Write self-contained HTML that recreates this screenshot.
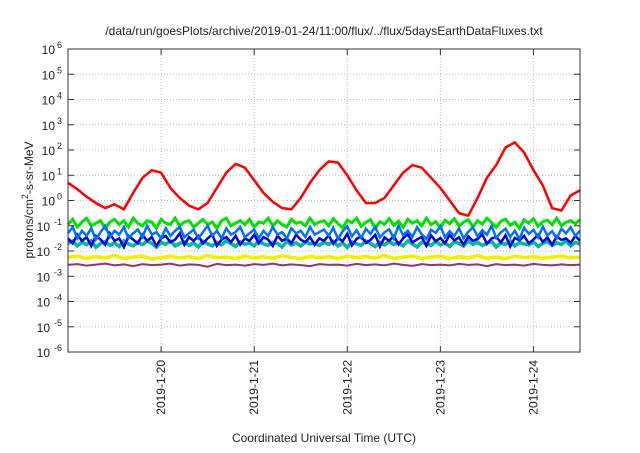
<!DOCTYPE html>
<html><head><meta charset="utf-8"><style>
body{margin:0;background:#fff;}
svg text{font-family:"Liberation Sans",Arial,sans-serif;fill:#222;}
</style></head><body>
<svg id="chart" width="640" height="448" xmlns="http://www.w3.org/2000/svg">
<text x="324" y="35" font-size="12" text-anchor="middle">/data/run/goesPlots/archive/2019-01-24/11:00/flux/../flux/5daysEarthDataFluxes.txt</text>
<g id="grid"></g>
<g id="series"></g>
<rect x="68" y="49" width="512" height="303" fill="none" stroke="#333" stroke-width="1"/>
<g id="axes"></g>
<text transform="translate(33,200) rotate(-90)" font-size="12" text-anchor="middle">protons/cm<tspan dy="-5" font-size="9">2</tspan><tspan dy="5">-s-sr-MeV</tspan></text>
<text x="324" y="442" font-size="12" text-anchor="middle">Coordinated Universal Time (UTC)</text>
</svg>
<script>
const xTickDays=[1,2,3,4,5];
const xTickLabels=["2019-1-20","2019-1-21","2019-1-22","2019-1-23","2019-1-24"];
const yTickExps=[-6,-5,-4,-3,-2,-1,0,1,2,3,4,5,6];
const redLog=[0.7,0.45,0.15,-0.1,-0.3,-0.15,-0.35,0.3,0.9,1.2,1.1,0.5,0.1,-0.2,-0.35,-0.1,0.5,1.1,1.45,1.3,0.8,0.3,-0.05,-0.3,-0.35,0.1,0.7,1.2,1.55,1.5,1.0,0.4,-0.1,-0.1,0.1,0.6,1.1,1.4,1.3,0.9,0.5,0.0,-0.5,-0.6,0.1,0.9,1.4,2.1,2.3,1.9,1.2,0.6,-0.3,-0.4,0.2,0.4];
const greenLog=[-0.95,-0.75,-1.05,-0.85,-0.7,-1.0,-0.9,-0.8,-1.1,-0.85,-0.75,-0.95,-0.8,-1.05,-0.7,-0.9,-1.0,-0.8,-0.85,-1.1,-0.75,-0.9,-0.95,-0.7,-1.0,-0.85,-0.8,-1.05,-0.9,-0.75,-0.95,-0.85,-1.1,-0.8,-0.7,-1.0,-0.9,-0.8,-0.95,-0.75,-1.05,-0.85,-0.9,-0.7,-1.0,-0.8,-0.95,-1.05,-0.75,-0.9,-0.85,-1.0,-0.7,-0.95,-0.85,-0.8,-1.0,-0.72,-0.92,-1.08,-0.78,-0.88,-0.7,-1.02,-0.86,-0.76,-1.1,-0.84,-0.94,-0.72,-0.98,-0.82,-1.06,-0.74,-0.9,-0.8,-1.0,-0.7,-0.96,-0.84,-1.08,-0.78,-0.92,-0.72,-1.0,-0.86,-0.76,-1.04,-0.8,-0.94,-0.7,-0.88,-1.06,-0.82,-0.74,-0.98,-0.86,-1.1,-0.76,-0.9,-0.72,-1.02,-0.84,-0.78,-0.96,-0.7,-1.0,-0.86,-0.8,-0.92,-0.76];
const lightBlueLog=[-1.3,-1.05,-1.5,-1.2,-1.4,-1.1,-1.55,-1.25,-1.0,-1.45,-1.2,-1.35,-1.05,-1.5,-1.3,-1.15,-1.45,-1.0,-1.35,-1.25,-1.5,-1.1,-1.4,-1.2,-1.05,-1.45,-1.3,-1.15,-1.5,-1.25,-1.0,-1.4,-1.2,-1.5,-1.1,-1.35,-1.25,-1.05,-1.45,-1.3,-1.15,-1.5,-1.2,-1.4,-1.05,-1.35,-1.25,-1.5,-1.1,-1.3,-1.2,-1.45,-1.05,-1.35,-1.25,-1.15,-1.4,-1.08,-1.52,-1.22,-1.02,-1.42,-1.18,-1.48,-1.12,-1.32,-1.04,-1.46,-1.26,-1.14,-1.5,-1.0,-1.38,-1.2,-1.44,-1.06,-1.34,-1.52,-1.16,-1.28,-1.02,-1.46,-1.22,-1.4,-1.1,-1.5,-1.24,-1.06,-1.42,-1.18,-1.36,-1.0,-1.48,-1.26,-1.12,-1.44,-1.2,-1.52,-1.08,-1.32,-1.16,-1.46,-1.04,-1.38,-1.22,-1.5,-1.12,-1.3,-1.06,-1.4,-1.2];
const blueLog=[-1.5,-1.7,-1.35,-1.6,-1.45,-1.8,-1.4,-1.55,-1.75,-1.3,-1.6,-1.5,-1.85,-1.4,-1.55,-1.7,-1.35,-1.6,-1.45,-1.8,-1.5,-1.4,-1.65,-1.55,-1.3,-1.75,-1.45,-1.6,-1.4,-1.7,-1.5,-1.35,-1.8,-1.55,-1.45,-1.65,-1.4,-1.75,-1.5,-1.6,-1.35,-1.7,-1.45,-1.55,-1.8,-1.4,-1.6,-1.5,-1.7,-1.35,-1.55,-1.65,-1.45,-1.75,-1.5,-1.6,-1.38,-1.72,-1.48,-1.62,-1.32,-1.78,-1.52,-1.42,-1.68,-1.56,-1.36,-1.82,-1.46,-1.6,-1.4,-1.74,-1.5,-1.34,-1.66,-1.54,-1.44,-1.8,-1.38,-1.62,-1.48,-1.7,-1.36,-1.58,-1.46,-1.76,-1.42,-1.6,-1.52,-1.34,-1.72,-1.5,-1.44,-1.66,-1.38,-1.82,-1.48,-1.58,-1.4,-1.7,-1.54,-1.36,-1.64,-1.46,-1.76,-1.42,-1.56,-1.5,-1.68,-1.4,-1.6];
const tealLog=[-1.7,-1.6,-1.8,-1.65,-1.75,-1.6,-1.85,-1.7,-1.62,-1.78,-1.68,-1.82,-1.6,-1.72,-1.8,-1.65,-1.75,-1.6,-1.7,-1.85,-1.66,-1.74,-1.6,-1.8,-1.7,-1.64,-1.78,-1.68,-1.84,-1.62,-1.72,-1.8,-1.66,-1.76,-1.6,-1.7,-1.82,-1.64,-1.74,-1.68,-1.8,-1.6,-1.72,-1.78,-1.66,-1.7,-1.84,-1.62,-1.76,-1.68,-1.8,-1.64,-1.72,-1.7,-1.78,-1.66,-1.74,-1.62,-1.8,-1.68,-1.86,-1.64,-1.72,-1.78,-1.6,-1.7,-1.82,-1.66,-1.76,-1.62,-1.74,-1.68,-1.8,-1.6,-1.72,-1.84,-1.66,-1.7,-1.78,-1.62,-1.76,-1.68,-1.82,-1.64,-1.7,-1.8,-1.6,-1.74,-1.66,-1.78,-1.7,-1.62,-1.84,-1.68,-1.74,-1.6,-1.8,-1.66,-1.72,-1.76,-1.64,-1.82,-1.7,-1.62,-1.78,-1.68,-1.74,-1.6,-1.8,-1.66,-1.72];
const yellowLog=[-2.25,-2.2,-2.3,-2.22,-2.28,-2.18,-2.3,-2.24,-2.2,-2.32,-2.26,-2.2,-2.28,-2.22,-2.3,-2.18,-2.26,-2.24,-2.3,-2.2,-2.27,-2.23,-2.29,-2.19,-2.25,-2.31,-2.21,-2.27,-2.23,-2.3,-2.2,-2.26,-2.22,-2.28,-2.18,-2.3,-2.24,-2.2,-2.29,-2.25,-2.21,-2.3,-2.23,-2.27,-2.19,-2.28,-2.24,-2.3,-2.2,-2.26,-2.22,-2.29,-2.24,-2.2,-2.27,-2.25];
const purpleLog=[-2.55,-2.52,-2.58,-2.54,-2.5,-2.57,-2.53,-2.6,-2.52,-2.56,-2.54,-2.5,-2.58,-2.53,-2.55,-2.62,-2.51,-2.56,-2.54,-2.58,-2.52,-2.55,-2.5,-2.57,-2.53,-2.56,-2.6,-2.52,-2.55,-2.54,-2.58,-2.51,-2.56,-2.53,-2.57,-2.5,-2.55,-2.59,-2.52,-2.56,-2.54,-2.57,-2.51,-2.55,-2.53,-2.6,-2.52,-2.56,-2.54,-2.58,-2.51,-2.55,-2.57,-2.53,-2.56,-2.54];

const X0=68,X1=580,Y0=352,Y1=49,D0=0,D1=5.5;
const xs=d=>X0+(d-D0)/(D1-D0)*(X1-X0);
const ys=e=>Y0-(e+6)/12*(Y0-Y1);
const NS="http://www.w3.org/2000/svg";
const grid=document.getElementById('grid'),axes=document.getElementById('axes'),ser=document.getElementById('series');
function mk(tag,attrs,parent){const el=document.createElementNS(NS,tag);for(const k in attrs)el.setAttribute(k,attrs[k]);parent.appendChild(el);return el;}
yTickExps.forEach(e=>{
  const y=ys(e);
  if(e>-6&&e<6){const g=mk('line',{x1:X0,x2:X1,y1:y,y2:y,stroke:'#bbb','stroke-dasharray':'1,2'},grid);
  
  }
  const t1=mk('line',{x1:X0,x2:X0+6,y1:y,y2:y,stroke:'#333'},axes);
  
  
  const t2=mk('line',{x1:X1-6,x2:X1,y1:y,y2:y,stroke:'#333'},axes);
  
  
  const tx=mk('text',{x:X0-8,y:y+5,'font-size':'12','text-anchor':'end'},axes);
  
  
  tx.textContent='10';
  const sp=mk('tspan',{dy:'-6','font-size':'9'},tx);sp.textContent=String(e);
  tx.setAttribute('x',X0-8-(String(e).length*5));
  sp.setAttribute('x',X0-6);sp.setAttribute('text-anchor','end');
});
xTickDays.forEach((d,i)=>{
  const x=xs(d);
  const g=mk('line',{x1:x,x2:x,y1:Y1,y2:Y0,stroke:'#bbb','stroke-dasharray':'1,2'},grid);
  
  
  const t=mk('line',{x1:x,x2:x,y1:Y0-6,y2:Y0,stroke:'#333'},axes);
  
  
  const t2=mk('line',{x1:x,x2:x,y1:Y1,y2:Y1+6,stroke:'#333'},axes);
  
  
  const tx=mk('text',{transform:`translate(${x+4},${Y0+8}) rotate(-90)`,'font-size':'12','text-anchor':'end'},axes);
  
  
  tx.textContent=xTickLabels[i];
});
function line(arr,color,w,name){
  const st=(D1-D0)/(arr.length-1);
  const pts=arr.map((v,i)=>xs(i*st).toFixed(1)+','+ys(v).toFixed(1)).join(' ');
  const p=mk('polyline',{points:pts,fill:'none',stroke:color,'stroke-width':w,'stroke-linejoin':'miter'},ser);
  
  
}
line(purpleLog,'#94346e',2,'series-purple');
line(yellowLog,'#f0f000',3.5,'series-yellow');
line(tealLog,'#00b8a0',3.5,'series-teal');
line(greenLog,'#00e000',3,'series-green');
line(blueLog,'#0000e0',2.5,'series-blue');
line(lightBlueLog,'#0070ff',2.5,'series-light-blue');
line(redLog,'#ff0000',2.5,'series-red');
</script>
</body></html>
